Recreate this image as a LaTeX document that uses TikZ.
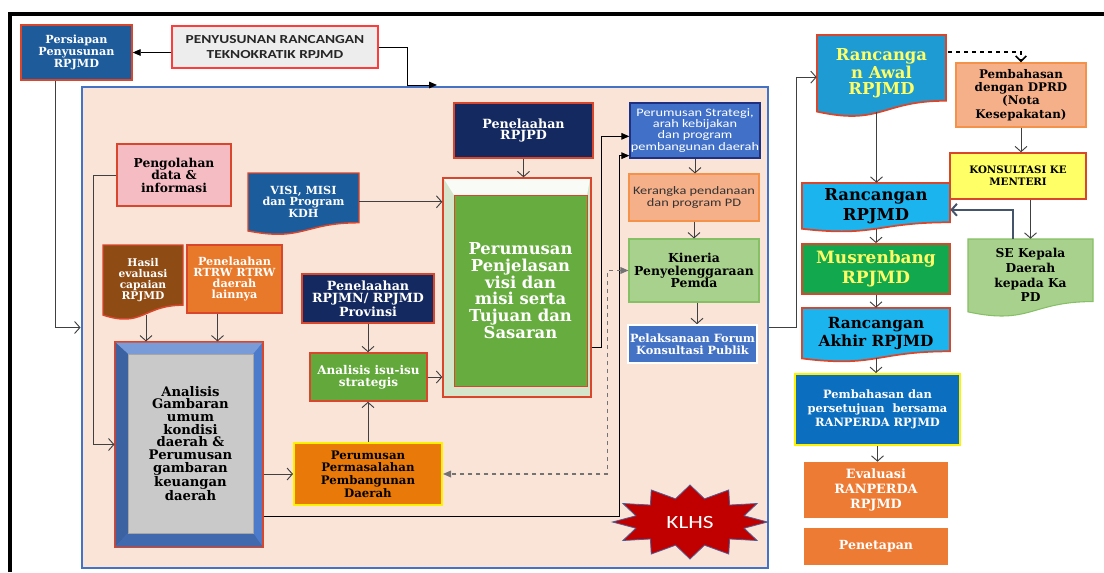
\documentclass[tikz,border=0pt]{standalone}
\usepackage{fontspec}
\setmainfont{DejaVu Serif}
\newfontfamily\calib{Carlito}[FakeStretch=1.25]
\usetikzlibrary{arrows.meta,calc}
\definecolor{panelfill}{HTML}{FAE4D7}
\definecolor{panelblue}{HTML}{4472C4}
\definecolor{bred}{HTML}{D9462B}
\definecolor{persblue}{HTML}{1D5B9B}
\definecolor{tekfill}{HTML}{EDEDED}
\definecolor{tekred}{HTML}{FF3B3B}
\definecolor{pinkf}{HTML}{F6BCC3}
\definecolor{visiblue}{HTML}{1B5C9C}
\definecolor{brownf}{HTML}{8E4B14}
\definecolor{orangef}{HTML}{E8792A}
\definecolor{navyf}{HTML}{14295F}
\definecolor{analblue}{HTML}{4C7BCB}
\definecolor{analgray}{HTML}{C9C9C9}
\definecolor{greenf}{HTML}{62A83A}
\definecolor{permor}{HTML}{E97A0A}
\definecolor{yellowb}{HTML}{FFF200}
\definecolor{pjlframe}{HTML}{D5E5CB}
\definecolor{pjlgreen}{HTML}{67AC3E}
\definecolor{stratblue}{HTML}{4070C8}
\definecolor{stratb}{HTML}{203080}
\definecolor{salmon}{HTML}{F5B08A}
\definecolor{salmonb}{HTML}{F39248}
\definecolor{lgreen}{HTML}{A9D18E}
\definecolor{lgreenb}{HTML}{86C064}
\definecolor{forumblue}{HTML}{4472C4}
\definecolor{klhsred}{HTML}{C00000}
\definecolor{klhsb}{HTML}{4F5D95}
\definecolor{awalblue}{HTML}{1E9BD2}
\definecolor{txtyellow}{HTML}{FFFF66}
\definecolor{konsy}{HTML}{FFFF66}
\definecolor{cyanf}{HTML}{1BB4EE}
\definecolor{musgreen}{HTML}{12A84E}
\definecolor{pembblue}{HTML}{0B6EBF}
\definecolor{evalor}{HTML}{EE7B34}
\definecolor{lineg}{HTML}{404040}
\definecolor{slate}{HTML}{44546A}

\newcommand\fs[2]{\fontsize{#1}{#2}\selectfont}
\newcommand\bx[7]{\node[#2, minimum width={(#5-#3)*0.75pt}, minimum height={(#6-#4)*0.75pt}] (#1) at ({(#3+#5)/2},{(#4+#6)/2}) {#7};}
\newcommand\docbx[8]{%
  \path[#2] (#3,#4) -- (#5,#4) -- (#5,{#4+0.802*(#6-#4)}) .. controls ({(#3+#5)/2},{#4+0.802*(#6-#4)}) and ({(#3+#5)/2},{#4+1.107*(#6-#4)}) .. (#3,{#4+0.934*(#6-#4)}) -- cycle;
  \node[#8, minimum width={(#5-#3)*0.75pt}, minimum height={0.93*(#6-#4)*0.75pt}] (#1) at ({(#3+#5)/2},{#4+0.465*(#6-#4)}) {#7};}

\tikzset{
 txt/.style={inner sep=0pt, align=center},
 rb/.style={draw=bred, line width=1.1pt},
 arr/.style={draw=lineg, line width=0.7pt, -{Straight Barb[length=4pt,width=9pt]}},
 tri/.style={draw=black, line width=0.7pt, -{Triangle[length=6pt,width=5pt]}},
}

\begin{document}
\begin{tikzpicture}[x=0.75pt,y=-0.75pt]
\useasboundingbox (0,0) rectangle (1104,572);
\fill[white] (0,0) rectangle (1104,572);
\draw[line width=2.4pt] (10,572) -- (10,14) -- (1104,14);

% panel
\bx{panel}{fill=panelfill, draw=panelblue, line width=2.2pt}{82}{87}{768}{568}{}

% top left
\bx{pers}{txt, fill=persblue, rb, text=white, font={\bfseries\fs{8.4}{9}}}{21}{25}{132}{80}{Persiapan\\Penyusunan\\RPJMD}
\bx{tek}{txt, fill=tekfill, draw=tekred, line width=0.9pt, text=black!85, font={\calib\bfseries\fs{9.2}{11.3}}}{172}{26}{378}{68}{PENYUSUNAN RANCANGAN\\TEKNOKRATIK RPJMD}

% left column
\bx{peng}{txt, fill=pinkf, rb, font={\bfseries\fs{9.2}{9.4}}}{117}{144}{231}{206}{Pengolahan\\data \&\\informasi}
\docbx{visi}{fill=visiblue, draw=bred, line width=1.1pt}{248}{173}{359}{235}{VISI, MISI\\dan Program\\KDH}{txt, text=white, font={\bfseries\fs{8.4}{8.6}}}
\docbx{hasil}{fill=brownf, draw=bred, line width=1.1pt}{103}{245}{183}{320}{Hasil\\evaluasi\\capaian\\RPJMD}{txt, text=white, font={\bfseries\fs{8}{8.3}}}
\bx{rtrw}{txt, fill=orangef, rb, text=white, font={\bfseries\fs{8.4}{8.3}}}{187}{245}{282}{313}{Penelaahan\\RTRW RTRW\\daerah\\lainnya}
\bx{rpjmn}{txt, fill=navyf, rb, text=white, font={\bfseries\fs{9.5}{9}}}{302}{274}{434}{323}{Penelaahan\\RPJMN/ RPJMD\\Provinsi}

% analisis box with bevel frame
\bx{anal}{fill=analblue, draw=bred, line width=0.8pt}{115}{342}{263}{547}{}
\fill[analblue!75!white] (115.5,342.5) -- (262.5,342.5) -- (253,354) -- (128,354) -- cycle;
\fill[analblue!80!black] (115.5,342.5) -- (128,354) -- (128,533) -- (115.5,546.5) -- cycle;
\fill[analblue!85!black] (115.5,546.5) -- (128,533) -- (253,533) -- (262.5,546.5) -- cycle;
\bx{analin}{txt, fill=analgray, draw=gray!70, line width=0.6pt, font={\bfseries\fs{9.9}{9.5}}}{128}{354}{253}{533}{Analisis\\Gambaran\\umum\\kondisi\\daerah \&\\Perumusan\\gambaran\\keuangan\\daerah}

\bx{isu}{txt, fill=greenf, rb, text=white, font={\bfseries\fs{9}{9}}}{310}{353}{427}{401}{Analisis isu-isu\\strategis}
\bx{perm}{txt, fill=permor, draw=yellowb, line width=1.5pt, font={\bfseries\fs{8.8}{9.4}}}{294}{443}{442}{505}{Perumusan\\Permasalahan\\Pembangunan\\Daerah}

% centre
\bx{rpjpd}{txt, fill=navyf, rb, text=white, font={\bfseries\fs{9.5}{9}}}{454}{103}{593}{158}{Penelaahan\\RPJPD}
\bx{pjl}{fill=pjlframe, draw=bred, line width=1pt}{443}{178}{591}{397}{}
\fill[white!85!pjlframe] (444,179) -- (590,179) -- (587,195) -- (454,195) -- cycle;
\bx{pjlin}{txt, fill=pjlgreen, draw=bred, line width=0.6pt, text=white, font={\bfseries\fs{12.3}{12.5}}}{454}{195}{587}{386}{Perumusan\\Penjelasan\\visi dan\\misi serta\\Tujuan dan\\Sasaran}

% right of panel
\bx{strat}{txt, fill=stratblue, draw=stratb, line width=1pt, text=white, font={\calib\fs{8.6}{8.3}}}{630}{103}{760}{158}{Perumusan Strategi,\\arah kebijakan\\dan program\\pembangunan daerah}
\bx{ker}{txt, fill=salmon, draw=salmonb, line width=0.8pt, text=black!80, font={\calib\fs{8.6}{9}}}{629}{174}{759}{221}{Kerangka pendanaan\\dan program PD}
\bx{kin}{txt, fill=lgreen, draw=lgreenb, line width=0.8pt, font={\bfseries\fs{9.3}{9.5}}}{629}{239}{759}{302}{Kineria\\Penyelenggaraan\\Pemda}
\bx{forum}{txt, fill=forumblue, draw=white, line width=1.2pt, text=white, font={\bfseries\fs{8.5}{8.8}}}{628}{325}{757}{363}{Pelaksanaan Forum\\Konsultasi Publik}

% KLHS
\filldraw[fill=klhsred, draw=klhsb, line width=0.6pt] (767.5,522) \foreach \i in {1,...,23} { -- ({690+ifthenelse(mod(\i,2)==1,56,77.5)*cos(\i*15)},{522-ifthenelse(mod(\i,2)==1,24,37)*sin(\i*15)}) } -- cycle;
\node[txt, text=white, font={\calib\fs{14}{14}}] (klhs) at (690,522) {KLHS};

% right column
\docbx{awal}{fill=awalblue, draw=bred, line width=1.3pt}{817}{35}{946}{117}{Rancanga\\n Awal\\RPJMD}{txt, text=txtyellow, font={\bfseries\fs{12.3}{12}}}
\bx{dprd}{txt, fill=salmon, draw=salmonb, line width=0.9pt, font={\bfseries\fs{8.9}{10}}}{956}{63}{1086}{127}{Pembahasan\\dengan DPRD\\(Nota\\Kesepakatan)}
\bx{kons}{txt, fill=konsy, draw=bred, line width=1.1pt, font={\bfseries\fs{7.7}{9}}}{950}{153}{1086}{199}{KONSULTASI KE\\MENTERI}
\docbx{se}{fill=lgreen, draw=lgreenb, line width=0.8pt}{968}{239}{1093}{317}{SE Kepala\\Daerah\\kepada Ka\\PD}{txt, font={\bfseries\fs{9.2}{11}}}
\docbx{ranc}{fill=cyanf, draw=bred, line width=1.3pt}{802}{183}{950}{232}{Rancangan\\RPJMD}{txt, font={\bfseries\fs{12.3}{15}}}
\bx{mus}{txt, fill=musgreen, draw=bred, line width=1.3pt, text=txtyellow, font={\bfseries\fs{12.7}{15}}}{802}{244}{950}{294}{Musrenbang\\RPJMD}
\docbx{akhir}{fill=cyanf, draw=bred, line width=1.3pt}{802}{308}{950}{362}{Rancangan\\Akhir RPJMD}{txt, font={\bfseries\fs{11.5}{13.5}}}
\bx{pemb}{txt, fill=pembblue, draw=yellowb, line width=1.5pt, text=white, font={\bfseries\fs{8.6}{10.5}}}{795}{374}{960}{445}{Pembahasan dan\\persetujuan\ \ bersama\\RANPERDA RPJMD}
\bx{evalr}{txt, fill=evalor, text=white, font={\bfseries\fs{9.6}{11}}}{804}{462}{948}{518}{Evaluasi\\RANPERDA\\RPJMD}
\bx{pen}{txt, fill=evalor, text=white, font={\bfseries\fs{9.4}{11}}}{804}{528}{948}{565}{Penetapan}

% connectors
\draw[tri] (tek.west |- pers.east) -- (pers.east);
\coordinate (tekend) at (437,85);
\draw[tri] (tek.east) -- ++(29,0) |- (tekend);
\draw[arr] ($(pers.south)+(-21,0)$) |- (panel.west);
\draw[arr] (peng.west) -- ++(-23,0) |- (anal.west);
\draw[arr] ($(hasil.south)+(3,0)$) -- ($(hasil.south |- anal.north)+(3,0)$);
\draw[arr] ($(rtrw.south)+(-17,0)$) -- ($(rtrw.south |- anal.north)+(-17,0)$);
\draw[arr] (visi.east) -- (visi.east -| pjl.west);
\draw[arr] (rpjpd.south) -- (rpjpd.south |- pjl.north);
\draw[arr] (rpjmn.south) -- (rpjmn.south |- isu.north);
\draw[arr] (isu.east) -- (isu.east -| pjl.west);
\draw[arr] (perm.north) -- (perm.north |- isu.south);
\draw[arr] (anal.east |- perm.west) -- (perm.west);
\draw[tri] ($(anal.south east)+(0,-31)$) -- ++(356,0) |- ($(strat.south west)+(0,-3)$);
\draw[tri] ($(pjl.south east)+(0,-50)$) -- ++(10,0) |- ($(strat.north west)+(0,34)$);
\draw[draw=gray!90!black, line width=0.9pt, dashed, {Triangle[length=6pt,width=5pt]}-{Triangle[length=6pt,width=5pt]}] (kin.west) -- ++(-21,0) |- (perm.east);
\draw[arr] (strat.south) -- (strat.south |- ker.north);
\draw[arr] (ker.south) -- (ker.south |- kin.north);
\draw[arr] ($(kin.south)+(3,0)$) -- ($(kin.south |- forum.north)+(3,0)$);

\draw[arr] (panel.east) -- ++(27,0) |- ($(awal.west)+(0,4)$);
\draw[arr] ($(awal.south)+(-5,0)$) -- ($(awal.south |- ranc.north)+(-5,0)$);
\draw[line width=1.2pt, dashed, -{Straight Barb[length=4pt,width=8pt]}] ($(awal.north east)+(2,17)$) -| (dprd.north);
\draw[arr] (dprd.south) -- (dprd.south |- kons.north);
\draw[arr] (se.north |- kons.south) -- (se.north);
\draw[arr, draw=slate, line width=1.5pt] ($(se.north)+(-18,0)$) |- ($(ranc.east)+(0,4)$);
\draw[arr] (ranc.south) -- (ranc.south |- mus.north);
\draw[arr] (mus.south) -- (mus.south |- akhir.north);
\draw[arr] (akhir.south) -- (akhir.south |- pemb.north);
\draw[arr] (pemb.south) -- (pemb.south |- evalr.north);
\end{tikzpicture}
\end{document}
